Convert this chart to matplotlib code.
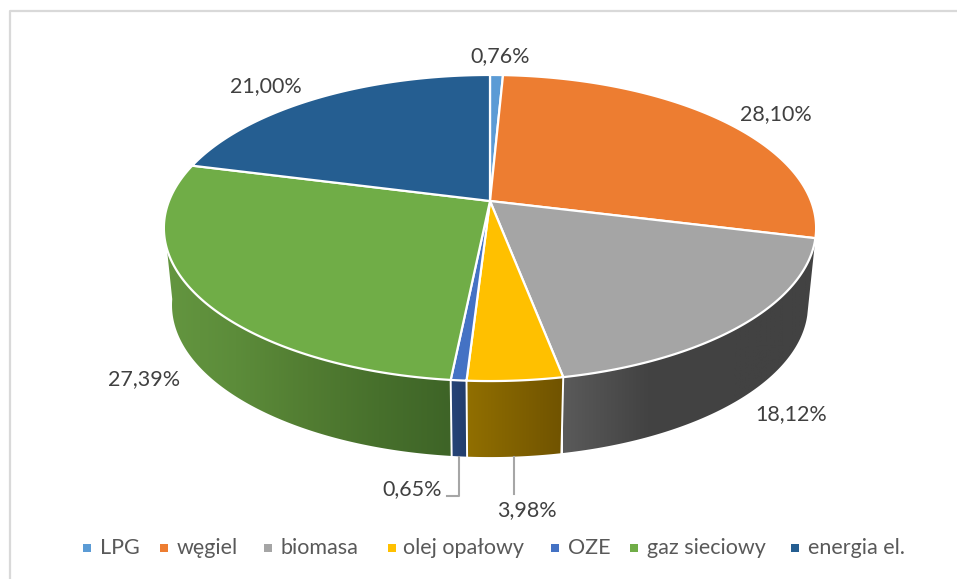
import matplotlib
matplotlib.use("Agg")
import matplotlib.pyplot as plt
import numpy as np
from matplotlib.colors import LinearSegmentedColormap
from matplotlib.patches import Polygon

categories = ["LPG", "węgiel", "biomasa", "olej opałowy", "OZE", "gaz sieciowy", "energia el."]
values = [0.76, 28.10, 18.12, 3.98, 0.65, 27.39, 21.00]
value_labels = ["0,76%", "28,10%", "18,12%", "3,98%", "0,65%", "27,39%", "21,00%"]
colors = ["#5B9BD5", "#ED7D31", "#A5A5A5", "#FFC000", "#4472C4", "#70AD47", "#255E91"]

# side shading of the visible wedges, left to right on screen
side_colors = {
    2: ["#5a5a5a", "#434343", "#424242", "#424242"],
    3: ["#916f00", "#705300"],
    4: ["#264478", "#223d6c"],
    5: ["#649640", "#5c8c3a", "#527d32", "#47702c", "#3e6427"],
}

label_xy = [(500, 56), (776, 114), (791, 414), (527, 510), (412, 489), (144, 379), (266, 86)]
legend_sq = [87, 164, 268, 392, 555, 634, 795]
legend_tx = [100, 177, 281, 403, 568, 647, 808]

P = 0.1765  # perspective of the disc


def top_face(t):
    u, v = np.sin(t), np.cos(t)
    w = 1 + P * v
    return 490 + 321 * u / w, (201 - 112.8 * v) / w


def bottom_face(t):
    u, v = np.sin(t), np.cos(t)
    w = 1 + P * v
    return 490 + 313 * u / w, (278.2 - 98.2 * v) / w


plt.rcParams['font.family'] = ['Lato', 'DejaVu Sans']
fig = plt.figure(figsize=(9.57, 5.79), dpi=100)
ax = fig.add_axes([0, 0, 1, 1])
ax.axis("off")

# chart frame
ax.plot([10, 10, 957], [579, 11, 11], color="#d9d9d9", lw=1.6)

edges = np.radians(np.cumsum([0] + values) * 3.6)

# sides first, the top face goes over them
for i in [5, 4, 3, 2]:
    a = max(edges[i], np.radians(103))
    b = min(edges[i + 1], np.radians(262))
    ts = np.linspace(a, b, 160)
    xt, yt = top_face(ts)
    xb, yb = bottom_face(ts)
    outline = Polygon(np.c_[np.r_[xt, xb[::-1]], np.r_[yt, yb[::-1]]], closed=True,
                      facecolor="none", edgecolor="none", transform=ax.transData)
    ax.add_patch(outline)
    cmap = LinearSegmentedColormap.from_list("side", side_colors[i])
    im = ax.imshow(np.linspace(0, 1, 256).reshape(1, -1), cmap=cmap, aspect="auto", zorder=2,
                   extent=(xt.min(), xt.max(), yb.max() + 2, yt.min() - 2))
    im.set_clip_path(outline)

# white seams on the front of the side
for t in edges[3:6]:
    x0, y0 = top_face(t)
    x1, y1 = bottom_face(t)
    ax.plot([x0, x1], [y0, y1], color="white", lw=1.4, zorder=3)

# top face
cx, cy = 490, 201
for i in range(len(values)):
    ts = np.linspace(edges[i], edges[i + 1], 200)
    xs, ys = top_face(ts)
    ax.fill(np.r_[cx, xs], np.r_[cy, ys], facecolor=colors[i], edgecolor="white", lw=1.6,
            joinstyle="round", zorder=4)

# leader lines
ax.plot([459, 459, 447], [457, 496, 496], color="#a6a6a6", lw=1.5, zorder=3)
ax.plot([514, 514], [457, 494], color="#a6a6a6", lw=1.5, zorder=3)

for (x, y), s in zip(label_xy, value_labels):
    ax.text(x, y, s, fontsize=15.5, color="#404040", ha="center", va="center", zorder=5)

for c, name, xs, xt in zip(colors, categories, legend_sq, legend_tx):
    ax.plot([xs], [548], marker="s", ms=5.8, color=c, mew=0, zorder=5)
    ax.text(xt, 547.5, name, fontsize=15.5, color="#595959", ha="left", va="center", zorder=5)

ax.set_xlim(0, 957)
ax.set_ylim(579, 0)

fig.savefig("out.png", dpi=100)
